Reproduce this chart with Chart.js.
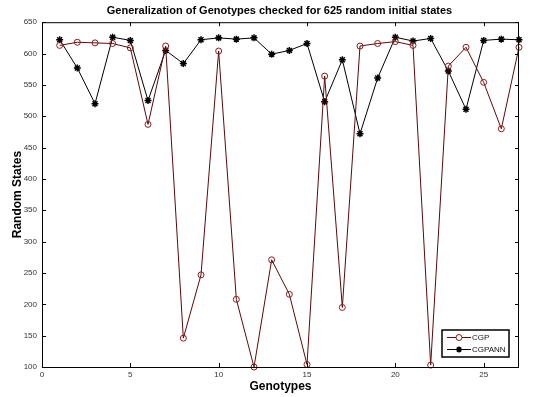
<!DOCTYPE html>
<html>
<head>
<meta charset="utf-8">
<script src="https://cdn.jsdelivr.net/npm/chart.js@4/dist/chart.umd.min.js"></script>
<style>
  html, body { margin: 0; padding: 0; background: #fff; }
  #wrap { width: 559px; height: 397px; }
</style>
</head>
<body>
<div id="wrap"><canvas id="chart" width="559" height="397"></canvas></div>
<script>
// data
const genotypes = [1, 2, 3, 4, 5, 6, 7, 8, 9, 10, 11, 12, 13, 14, 15, 16, 17, 18, 19, 20, 21, 22, 23, 24, 25, 26, 27];
const cgp    = [613, 618, 617, 616, 609, 487, 612, 146, 247, 604, 208, 100, 271, 216, 104, 564, 195, 612, 616, 619, 613, 103, 580, 610, 554, 480, 610];
const cgpann = [622, 577, 520, 626, 621, 525, 605, 584, 622, 625, 623, 625, 599, 605, 616, 523, 590, 472, 561, 626, 620, 624, 572, 511, 621, 623, 622];

const xTicks = [0, 5, 10, 15, 20, 25];
const yTicks = [100, 150, 200, 250, 300, 350, 400, 450, 500, 550, 600, 650];

const CGP_LINE = "#5a0a0a";
const CGP_MARK = "#8a1c1c";
const FONT = "'Liberation Sans', Arial, sans-serif";

function toPoints(vals) {
  return genotypes.map((g, i) => ({ x: g, y: vals[i] }));
}

// frame, inward ticks on all sides, legend box inside the plot
const matlabFrame = {
  id: "matlabFrame",
  afterDraw(chart) {
    const { ctx, chartArea: a, scales } = chart;
    ctx.save();
    ctx.strokeStyle = "#000";
    ctx.lineWidth = 1;
    ctx.strokeRect(a.left + 0.5, a.top + 0.5, a.right - a.left - 1, a.bottom - a.top);

    const len = 4;
    ctx.beginPath();
    xTicks.forEach(v => {
      const px = Math.round(scales.x.getPixelForValue(v)) + 0.5;
      ctx.moveTo(px, a.bottom); ctx.lineTo(px, a.bottom - len);
      ctx.moveTo(px, a.top); ctx.lineTo(px, a.top + len);
    });
    yTicks.forEach(v => {
      const py = Math.round(scales.y.getPixelForValue(v)) + 0.5;
      ctx.moveTo(a.left, py); ctx.lineTo(a.left + len, py);
      ctx.moveTo(a.right, py); ctx.lineTo(a.right - len, py);
    });
    ctx.stroke();

    // legend
    const lx = 442, ly = 330, lw = 67, lh = 27;
    ctx.fillStyle = "#fff";
    ctx.fillRect(lx, ly, lw, lh);
    ctx.lineWidth = 1.5;
    ctx.strokeRect(lx, ly, lw, lh);
    ctx.lineWidth = 1;
    ctx.font = "8px " + FONT;
    ctx.textBaseline = "middle";
    const rows = [
      { label: "CGP", line: CGP_LINE, mark: "circle", y: ly + 7.5 },
      { label: "CGPANN", line: "#000", mark: "star", y: ly + 19.5 }
    ];
    rows.forEach(r => {
      ctx.strokeStyle = r.line;
      ctx.beginPath();
      ctx.moveTo(lx + 5, r.y); ctx.lineTo(lx + 29, r.y);
      ctx.stroke();
      if (r.mark === "circle") {
        ctx.strokeStyle = CGP_MARK;
        ctx.fillStyle = "#fff";
        ctx.beginPath();
        ctx.arc(lx + 17, r.y, 3, 0, Math.PI * 2);
        ctx.fill(); ctx.stroke();
      } else {
        ctx.strokeStyle = "#000";
        ctx.lineWidth = 1.5;
        ctx.beginPath();
        for (let k = 0; k < 4; k++) {
          const ang = k * Math.PI / 4;
          ctx.moveTo(lx + 17 - 3 * Math.cos(ang), r.y - 3 * Math.sin(ang));
          ctx.lineTo(lx + 17 + 3 * Math.cos(ang), r.y + 3 * Math.sin(ang));
        }
        ctx.stroke();
        ctx.lineWidth = 1;
      }
      ctx.fillStyle = "#111";
      ctx.fillText(r.label, lx + 30, r.y + 0.5);
    });
    ctx.restore();
  }
};

new Chart(document.getElementById("chart"), {
  type: "line",
  data: {
    datasets: [
      {
        label: "CGP",
        data: toPoints(cgp),
        borderColor: CGP_LINE,
        borderWidth: 1,
        pointStyle: "circle",
        pointRadius: 3,
        pointBorderColor: CGP_MARK,
        pointBackgroundColor: "rgba(255,255,255,0)",
        pointBorderWidth: 1,
        tension: 0,
        clip: false
      },
      {
        label: "CGPANN",
        data: toPoints(cgpann),
        borderColor: "#000",
        borderWidth: 1,
        pointStyle: "star",
        pointRadius: 3.5,
        pointBorderColor: "#000",
        pointBackgroundColor: "#000",
        pointBorderWidth: 1.5,
        tension: 0,
        clip: false
      }
    ]
  },
  options: {
    responsive: false,
    animation: false,
    devicePixelRatio: 1,
    layout: { padding: 0 },
    plugins: {
      legend: { display: false },
      tooltip: { enabled: false },
      title: {
        display: true,
        text: "Generalization of Genotypes checked for 625 random initial states",
        color: "#000",
        font: { family: FONT, size: 11, weight: "bold" },
        padding: { top: 4, bottom: 5 }
      }
    },
    scales: {
      x: {
        type: "linear",
        min: 0,
        max: 27,
        afterBuildTicks: s => { s.ticks = xTicks.map(v => ({ value: v })); },
        afterFit: s => { s.height = 30; },
        grid: { display: false, drawTicks: false },
        border: { display: false },
        ticks: {
          color: "#333",
          padding: 3,
          maxRotation: 0,
          font: { family: FONT, size: 8 }
        },
        title: {
          display: true,
          text: "Genotypes",
          color: "#000",
          font: { family: FONT, size: 12, weight: "bold" },
          padding: { top: 0, bottom: 3 }
        }
      },
      y: {
        min: 100,
        max: 650,
        afterBuildTicks: s => { s.ticks = yTicks.map(v => ({ value: v })); },
        afterFit: s => { s.width = 42; },
        grid: { display: false, drawTicks: false },
        border: { display: false },
        ticks: {
          color: "#333",
          padding: 5,
          font: { family: FONT, size: 8 }
        },
        title: {
          display: true,
          text: "Random States",
          color: "#000",
          font: { family: FONT, size: 12, weight: "bold" },
          padding: { top: 10, bottom: 0 }
        }
      },
      // empty right-hand axis that only reserves the right margin
      yRight: {
        position: "right",
        min: 100,
        max: 650,
        afterFit: s => { s.width = 40; },
        grid: { display: false, drawTicks: false },
        border: { display: false },
        ticks: { display: false }
      }
    }
  },
  plugins: [matlabFrame]
});
</script>
</body>
</html>
